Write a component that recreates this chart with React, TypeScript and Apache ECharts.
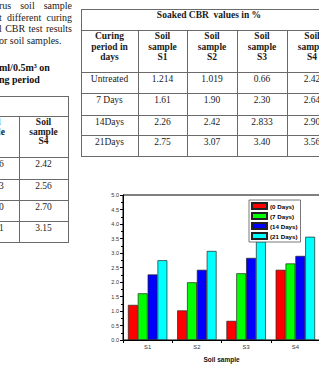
import React, { useEffect, useRef } from "react";
import * as echarts from "echarts";

// ---- chart data ----
const samples = ["S1", "S2", "S3", "S4"];
const curingNames = ["(0 Days)", "(7 Days)", "(14 Days)", "(21 Days)"];
const cbrDay0 = [1.21, 1.02, 0.66, 2.42];
const cbrDay7 = [1.61, 1.99, 2.3, 2.64];
const cbrDay14 = [2.26, 2.42, 2.83, 2.9];
const cbrDay21 = [2.75, 3.07, 3.4, 3.56];
const barColors = ["#ff0000", "#00ff00", "#0000ff", "#00ffff"];

// ---- right table data ----
const tableTitle = "Soaked CBR  values in %";
const curingHeader = ["Curing", "period in", "days"];
const sampleHeaders = ["S1", "S2", "S3", "S4"];
const curingPeriods = ["Untreated", "7 Days", "14Days", "21Days"];
const tableS1 = ["1.214", "1.61", "2.26", "2.75"];
const tableS2 = ["1.019", "1.90", "2.42", "3.07"];
const tableS3 = ["0.66", "2.30", "2.833", "3.40"];
const tableS4 = ["2.42", "2.64", "2.90", "3.56"];

// ---- left (cut-off) table data ----
const leftS4 = ["2.42", "2.56", "2.70", "3.15"];
const leftS3Tail = ["6", "3", "0", "1"];
const leftS3HeaderTail = ["l", "le", ""];

// ---- text fragments ----
const paraLines = ["rus  soil  sample", "t different curing", "l CBR test results", "or soil samples."];
const boldLines = ["ml/0.5m\u00b3 on", "ng period"];

const SERIF = '"Liberation Serif", "Times New Roman", serif';
const SANS = '"Liberation Sans", Arial, sans-serif';
const LINE = "#6a6a6a";

function HLine({ x0, x1, y }: { x0: number; x1: number; y: number }) {
  return <div style={{ position: "absolute", left: x0, top: y, width: x1 - x0 + 1, height: 1, background: LINE }} />;
}
function VLine({ x, y0, y1 }: { x: number; y0: number; y1: number }) {
  return <div style={{ position: "absolute", left: x, top: y0, width: 1, height: y1 - y0 + 1, background: LINE }} />;
}
function Cell({ x0, x1, y0, lines, bold, lh, pad }: { x0: number; x1: number; y0: number; lines: string[]; bold?: boolean; lh: number; pad: number }) {
  return (
    <div
      style={{
        position: "absolute",
        left: x0,
        top: y0 + pad,
        width: x1 - x0,
        textAlign: "center",
        fontFamily: SERIF,
        fontSize: 9.5,
        lineHeight: lh + "px",
        fontWeight: bold ? 700 : 400,
        color: "#1a1a1a",
        whiteSpace: "pre",
      }}
    >
      {lines.map((l, i) => (
        <div key={i}>{l}</div>
      ))}
    </div>
  );
}

function Chart() {
  const ref = useRef<HTMLDivElement>(null);
  useEffect(() => {
    if (!ref.current) return;
    const chart = echarts.init(ref.current, null, { renderer: "svg" });
    const seriesData = [cbrDay0, cbrDay7, cbrDay14, cbrDay21];
    chart.setOption({
      animation: false,
      grid: {
        left: 23,
        top: 10,
        right: 10,
        bottom: 31,
        show: true,
        borderColor: "#000",
        borderWidth: 1,
        backgroundColor: "transparent",
        containLabel: false,
        outerBoundsMode: "none",
      },
      legend: {
        orient: "vertical",
        left: 149,
        top: 15,
        itemWidth: 15,
        itemHeight: 6,
        itemGap: 2,
        padding: [2, 3, 2, 2],
        borderColor: "#555",
        borderWidth: 0.8,
        backgroundColor: "#fff",
        icon: "rect",
        textStyle: { fontSize: 6.2, fontWeight: "bold", fontFamily: SANS, color: "#000", padding: [0, 0, 0, -2] },
        data: curingNames,
      },
      xAxis: {
        type: "category",
        data: samples,
        axisLine: { lineStyle: { color: "#000", width: 1 } },
        axisTick: { show: true, length: 3, lineStyle: { color: "#000" } },
        axisLabel: { fontSize: 5.8, fontFamily: SANS, color: "#333", margin: 4 },
        name: "Soil sample",
        nameLocation: "middle",
        nameGap: 16,
        nameTextStyle: { fontSize: 6.5, fontWeight: "bold", fontFamily: SANS, color: "#111" },
      },
      yAxis: {
        type: "value",
        min: 0,
        max: 5,
        interval: 0.5,
        axisLine: { show: true, lineStyle: { color: "#000", width: 1 } },
        axisTick: { show: true, length: 3, lineStyle: { color: "#000" } },
        minorTick: { show: true, splitNumber: 2, length: 2, lineStyle: { color: "#000" } },
        splitLine: { show: false },
        axisLabel: { fontSize: 5.5, fontFamily: SANS, color: "#333", margin: 4, formatter: (v: number) => v.toFixed(1) },
        name: 'CBR value "%"',
        nameLocation: "middle",
        nameGap: 18,
        nameRotate: 90,
        nameTextStyle: { fontSize: 6.5, fontWeight: "bold", fontFamily: SANS, color: "#111", padding: [0, 0, 0, 24] },
      },
      series: seriesData.map((d, i) => ({
        type: "bar",
        name: curingNames[i],
        data: d,
        barGap: "0%",
        barCategoryGap: "20%",
        itemStyle: { color: barColors[i], borderColor: "#222", borderWidth: 0.7 },
      })),
    });
    return () => chart.dispose();
  }, []);
  return <div ref={ref} style={{ position: "absolute", left: 100, top: 185, width: 230, height: 186 }} />;
}

export default function App() {
  // right table geometry
  const rx = [81, 138, 187, 237, 287, 337];
  const ry = [9, 30, 72, 93, 115, 135, 156];
  const cols = [tableS1, tableS2, tableS3, tableS4];
  // left table geometry
  const lx = [-30, 19, 68];
  const ly = [96, 116, 157, 179, 200, 221, 242];

  return (
    <div style={{ position: "fixed", left: 0, top: 0, width: 319, height: 371, overflow: "hidden", background: "#fff" }}>
      {/* paragraph fragment */}
      {paraLines.map((t, i) => (
        <div
          key={"p" + i}
          style={{
            position: "absolute",
            left: -1,
            top: i * 11.7,
            width: 73,
            fontFamily: SERIF,
            fontSize: 10,
            lineHeight: "12px",
            color: "#222",
            whiteSpace: i < 3 ? "normal" : "pre",
            textAlign: "justify",
            textAlignLast: i < 3 ? "justify" : "left",
          }}
        >
          {t}
        </div>
      ))}
      {boldLines.map((t, i) => (
        <div
          key={"b" + i}
          style={{ position: "absolute", left: -1, top: 62 + i * 12, fontFamily: SERIF, fontSize: 10, fontWeight: 700, lineHeight: "12px", color: "#111", whiteSpace: "pre" }}
        >
          {t}
        </div>
      ))}

      {/* left table (cut at the page edge) */}
      {ly.map((y, i) => (
        <HLine key={"lh" + i} x0={-40} x1={68} y={y} />
      ))}
      <VLine x={68} y0={96} y1={242} />
      <VLine x={19} y0={116} y1={242} />
      <Cell x0={lx[1]} x1={lx[2]} y0={116} lines={["Soil", "sample", "S4"]} bold lh={9.7} pad={2} />
      <div style={{ position: "absolute", left: -2, top: 118, fontFamily: SERIF, fontSize: 9.5, fontWeight: 700, lineHeight: "9.7px", color: "#1a1a1a" }}>
        {leftS3HeaderTail.map((t, i) => (
          <div key={i} style={{ height: 9.7 }}>{t}</div>
        ))}
      </div>
      {leftS4.map((v, i) => (
        <Cell key={"l4" + i} x0={lx[1]} x1={lx[2]} y0={ly[i + 2]} lines={[v]} lh={11} pad={1.5} />
      ))}
      {leftS3Tail.map((v, i) => (
        <div key={"l3" + i} style={{ position: "absolute", left: -1, top: ly[i + 2] + 1.5, fontFamily: SERIF, fontSize: 9.5, lineHeight: "11px", color: "#1a1a1a" }}>
          {v}
        </div>
      ))}

      {/* right table */}
      {ry.map((y, i) => (
        <HLine key={"rh" + i} x0={rx[0]} x1={rx[5]} y={y} />
      ))}
      <VLine x={rx[0]} y0={ry[0]} y1={ry[6]} />
      <VLine x={rx[5]} y0={ry[0]} y1={ry[6]} />
      {rx.slice(1, 5).map((x, i) => (
        <VLine key={"rv" + i} x={x} y0={ry[1]} y1={ry[6]} />
      ))}
      <Cell x0={rx[0]} x1={rx[5]} y0={ry[0]} lines={[tableTitle]} bold lh={11} pad={1} />
      <Cell x0={rx[0]} x1={rx[1]} y0={ry[1]} lines={curingHeader} bold lh={10.5} pad={1} />
      {sampleHeaders.map((s, i) => (
        <Cell key={"sh" + i} x0={rx[i + 1]} x1={rx[i + 2]} y0={ry[1]} lines={["Soil", "sample", s]} bold lh={10.5} pad={1} />
      ))}
      {curingPeriods.map((c, r) => (
        <React.Fragment key={"r" + r}>
          <Cell x0={rx[0]} x1={rx[1]} y0={ry[r + 2]} lines={[c]} lh={11} pad={1.5} />
          {cols.map((col, ci) => (
            <Cell key={"c" + ci} x0={rx[ci + 1]} x1={rx[ci + 2]} y0={ry[r + 2]} lines={[col[r]]} lh={11} pad={1.5} />
          ))}
        </React.Fragment>
      ))}

      <Chart />
    </div>
  );
}
